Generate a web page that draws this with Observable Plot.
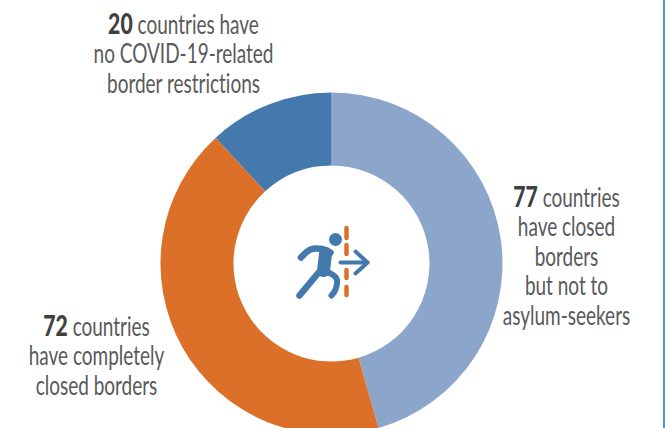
<!DOCTYPE html>
<html><head><meta charset="utf-8">
<script src="https://cdn.jsdelivr.net/npm/d3@7"></script>
<script src="https://cdn.jsdelivr.net/npm/@observablehq/plot@0.6"></script>
<style>html,body{margin:0;padding:0;background:#fff;overflow:hidden}svg{display:block}text{font-variant-ligatures:none}</style>
</head><body><div id="chart"></div>
<script>
const categories = ["Closed borders, not to asylum-seekers", "Completely closed borders", "No COVID-19-related restrictions"];
const countries = [77, 72, 20];
const sliceColors = ["#8ba5cb", "#dd7028", "#4479ae"];
const labelTop = "20 countries have\nno COVID-19-related\nborder restrictions";
const labelRight = "77 countries\nhave closed\nborders\nbut not to\nasylum-seekers";
const labelLeft = "72 countries\nhave completely\nclosed borders";

const slices = d3.pie().sort(null)(countries).map((a, i) => ({...a, category: categories[i]}));
const arcGen = d3.arc().innerRadius(98).outerRadius(171);
const arcSymbol = s => ({draw(ctx) { arcGen.context(ctx)(s); }});

const squeeze = 0.73;
const label = (text, cx, top) => Plot.text([text], {
  text: d => d, frameAnchor: "top-left", lineAnchor: "top", textAnchor: "middle",
  dx: cx, dy: top, fontSize: 26, lineHeight: 1.135, fill: "#58595b", fontFamily: "Lato, sans-serif"
});

const stroke = (pts, w, color = "#4479ae") => Plot.line(pts, {x: d => d[0], y: d => d[1], stroke: () => color, strokeWidth: w, strokeLinecap: "round", strokeLinejoin: "round", curve: "catmull-rom"});

const plot = Plot.plot({
  width: 665, height: 428, margin: 0,
  x: {domain: [0, 665], range: [0, 665], axis: null},
  y: {domain: [0, 428], range: [0, 428], axis: null},
  color: {type: "ordinal", domain: categories, range: sliceColors},
  marks: [
    ...slices.map(s => Plot.dot([s], {frameAnchor: "top-left", dx: 331, dy: 263, fill: d => d.category, symbol: arcSymbol(s)})),
    label(labelTop, 183, 12.5),
    label(labelRight, 566, 185.5),
    label(labelLeft, 96, 314.5),
    Plot.ruleX([663.5], {stroke: "#1f6fb2", strokeWidth: 1.5}),
    Plot.ruleX([[228, 238], [245, 254], [270, 278], [287, 295]], {x: () => 346, y1: d => d[0], y2: d => d[1], stroke: "#dd7028", strokeWidth: 4.5, strokeLinecap: "round"}),
    stroke([[300.5, 257], [310, 249], [321.5, 248.5], [330, 252]], 6.5),
    stroke([[325, 253], [324, 262], [323, 270]], 13),
    stroke([[319, 271], [309, 283], [299, 295]], 6.5),
    stroke([[326, 271], [336, 278], [335, 289], [331, 295]], 6),
    Plot.dot([[335, 239]], {x: d => d[0], y: d => d[1], r: 6.5, fill: () => "#4479ae"}),
    stroke([[340, 262], [367, 262]], 4),
    Plot.line([[355, 251], [367, 262], [355, 273]], {x: d => d[0], y: d => d[1], stroke: () => "#4479ae", strokeWidth: 4, strokeLinecap: "round", strokeLinejoin: "round"})
  ]
});
plot.querySelectorAll("text").forEach(t => {
  const first = t.querySelector("tspan");
  if (!first) return;
  t.setAttribute("transform", `${t.getAttribute("transform") || ""} scale(${squeeze},1)`);
  const [n, ...rest] = first.textContent.split(" ");
  first.textContent = "";
  const b = document.createElementNS("http://www.w3.org/2000/svg", "tspan");
  b.setAttribute("font-weight", "900"); b.setAttribute("fill", "#404040"); b.setAttribute("font-size", 29);
  b.textContent = n;
  first.append(b, " " + rest.join(" "));
});
document.getElementById("chart").append(plot);
</script></body></html>
